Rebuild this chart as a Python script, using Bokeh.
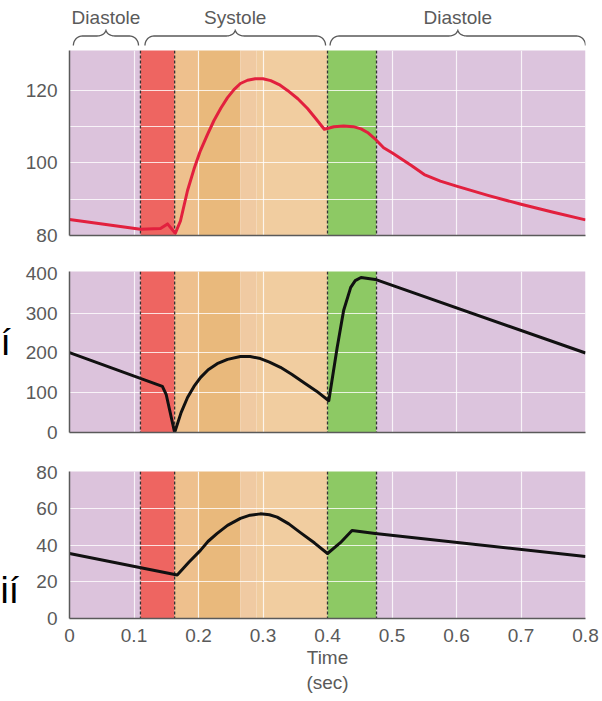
import numpy as np
from bokeh.plotting import figure
from bokeh.layouts import column, row
from bokeh.models import Range1d, FixedTicker, Span
from bokeh.embed import file_html
from bokeh.resources import INLINE
from bokeh.core.properties import value

# ---------------- data ----------------
band_start = [0.000, 0.110, 0.163, 0.200, 0.265, 0.290, 0.400, 0.476]
band_end   = [0.110, 0.163, 0.200, 0.265, 0.290, 0.400, 0.476, 0.800]
band_color = ["#DCC3DC", "#EE6561", "#EEC08D", "#E9B97C", "#F0CAA2", "#F1CDA0", "#8DC964", "#DCC4DD"]
divider_x = [0.110, 0.163, 0.400, 0.476]

phase_labels = ["Diastole", "Systole", "Diastole"]
phase_start = [0.006, 0.117, 0.404]
phase_end = [0.107, 0.397, 0.800]

x_ticks = [0, 0.1, 0.2, 0.3, 0.4, 0.5, 0.6, 0.7, 0.8]
x_tick_labels = ["0", "0.1", "0.2", "0.3", "0.4", "0.5", "0.6", "0.7", "0.8"]
x_grid = [0.1, 0.2, 0.3, 0.5, 0.6, 0.7]

# top panel (red curve)
t_top = [0.0, 0.110, 0.141, 0.152, 0.164, 0.172, 0.183, 0.193, 0.203, 0.214, 0.224,
         0.235, 0.245, 0.255, 0.265, 0.276, 0.288, 0.300, 0.312, 0.325, 0.338,
         0.354, 0.369, 0.382, 0.395, 0.410, 0.425, 0.440, 0.452, 0.462, 0.475,
         0.487, 0.500, 0.513, 0.530, 0.550, 0.575, 0.600, 0.650, 0.700, 0.750, 0.800]
v_top = [84.4, 81.7, 81.9, 83.2, 80.6, 84.0, 92.4, 98.3, 103.4, 107.9, 111.7,
         115.2, 118.0, 120.2, 121.9, 122.8, 123.2, 123.2, 122.7, 121.6, 120.0,
         117.7, 115.0, 112.2, 109.3, 110.0, 110.2, 110.0, 109.4, 108.4, 106.4,
         104.2, 102.8, 101.3, 99.3, 96.8, 95.0, 93.6, 91.0, 88.6, 86.4, 84.3]
top_yticks = [80, 100, 120]
top_ygrid = [90, 100, 110, 120]

# middle panel
t_mid = [0.0, 0.144, 0.150, 0.163, 0.173, 0.183, 0.193, 0.203, 0.215, 0.229, 0.245,
         0.265, 0.280, 0.296, 0.310, 0.327, 0.345, 0.363, 0.383, 0.402, 0.415,
         0.425, 0.436, 0.443, 0.452, 0.474, 0.800]
v_mid = [201, 116, 95, 0, 50, 88, 116, 138, 158, 173, 184,
         191, 191, 186, 177, 164, 146, 126, 104, 80, 214,
         307, 365, 382, 390, 385, 200]
mid_yticks = [0, 100, 200, 300, 400]
mid_ygrid = [100, 200, 300]

# bottom panel
t_bot = [0.0, 0.167, 0.185, 0.203, 0.215, 0.229, 0.245, 0.265, 0.280, 0.296, 0.310,
         0.322, 0.340, 0.358, 0.380, 0.400, 0.420, 0.438, 0.474, 0.800]
v_bot = [35.6, 23.8, 30.8, 37.3, 42.3, 46.6, 51.0, 54.8, 56.6, 57.3, 56.8,
         55.5, 51.8, 47.0, 41.3, 35.6, 41.5, 48.2, 46.6, 34.0]
bot_yticks = [0, 20, 40, 60, 80]
bot_ygrid = [20, 40, 60]

# cut-off side letters
side_text = ["í", "ií"]

FONT = "Liberation Sans"
TXT = "#5a5a5a"
FS = "19px"
SIDE_W = 20
W = 602 - SIDE_W
LB, RB = 49, 17
xr = Range1d(0, 0.8)


def panel(height, top, bottom, y0, y1, yticks, ygrid, show_x):
    p = figure(width=W, height=height, x_range=xr, y_range=Range1d(y0, y1),
               toolbar_location=None, output_backend="svg",
               min_border_left=LB, min_border_right=RB,
               min_border_top=top, min_border_bottom=bottom)
    p.outline_line_color = None
    p.background_fill_color = "white"
    p.quad(left=band_start, right=band_end, bottom=y0 - 50, top=y1 + 50,
           fill_color=band_color, line_color=None, level="image")
    p.xgrid.ticker = FixedTicker(ticks=x_grid)
    p.ygrid.ticker = FixedTicker(ticks=ygrid)
    for g in (p.xgrid, p.ygrid):
        g.grid_line_color = "white"
        g.grid_line_alpha = 0.8
        g.grid_line_width = 1.2
    for d in divider_x:
        p.add_layout(Span(location=d, dimension="height", line_color="#333333",
                          line_dash="3 2", line_width=1.3, level="underlay"))
    p.yaxis.ticker = FixedTicker(ticks=yticks)
    if show_x:
        p.xaxis.ticker = FixedTicker(ticks=x_ticks)
        p.xaxis.major_label_overrides = {t: l for t, l in zip(x_ticks, x_tick_labels)}
    else:
        p.xaxis.ticker = FixedTicker(ticks=[])
    for ax in (p.xaxis, p.yaxis):
        ax.axis_line_color = TXT
        ax.axis_line_width = 1.5
        ax.major_tick_line_color = None
        ax.minor_tick_line_color = None
        ax.major_label_text_color = TXT
        ax.major_label_text_font = FONT
        ax.major_label_text_font_size = FS
        ax.major_label_standoff = 6
    p.xaxis.major_label_standoff = 4
    return p


# header with braces (pixel-like coordinates, 0 at top)
hdr = figure(width=W, height=50, x_range=xr, y_range=Range1d(50, 0),
             toolbar_location=None, output_backend="svg",
             min_border_left=LB, min_border_right=RB, min_border_top=0, min_border_bottom=0)
hdr.outline_line_color = None
hdr.axis.visible = False
hdr.grid.visible = False
PX = 645.0
y_end, y_body, y_tip = 45.0, 35.5, 29.0
for s, e in zip(phase_start, phase_end):
    r = 9.0 / PX
    m = (s + e) / 2
    th = np.linspace(0, np.pi / 2, 12)
    xs1 = s + r * (1 - np.cos(th))
    ys1 = y_end - (y_end - y_body) * np.sin(th)
    xs2 = m - r + r * np.sin(th)
    ys2 = y_body - (y_body - y_tip) * (1 - np.cos(th))
    xl = np.concatenate([xs1, xs2])
    yl = np.concatenate([ys1, ys2])
    xr_ = (2 * m - xl)[::-1]
    yr_ = yl[::-1]
    hdr.line(np.concatenate([xl, xr_]), np.concatenate([yl, yr_]),
             line_color=TXT, line_width=1.3)
hdr.text(x=[(s + e) / 2 for s, e in zip(phase_start, phase_end)], y=[17] * 3,
         text=phase_labels, text_font=value(FONT), text_font_size=FS,
         text_color=TXT, text_align="center", text_baseline="middle")

p1 = panel(205, 0, 20, 80, 131, top_yticks, top_ygrid, False)
p1.line(t_top, v_top, line_color="#E2203E", line_width=3, line_join="round")

p2 = panel(195, 16, 18, 0, 405, mid_yticks, mid_ygrid, False)
p2.line(t_mid, v_mid, line_color="#111111", line_width=3, line_join="round")

p3 = panel(251, 21, 83, 0, 80.5, bot_yticks, bot_ygrid, True)
p3.line(t_bot, v_bot, line_color="#111111", line_width=3, line_join="round")
p3.xaxis.axis_label = "Time\n(sec)"
p3.xaxis.axis_label_text_font = FONT
p3.xaxis.axis_label_text_font_size = FS
p3.xaxis.axis_label_text_font_style = "normal"
p3.xaxis.axis_label_text_color = TXT
p3.xaxis.axis_label_standoff = 2

# narrow side strip with the cut-off letters
TOTAL_H = 50 + 205 + 195 + 251
side = figure(width=SIDE_W, height=TOTAL_H, x_range=Range1d(0, SIDE_W),
              y_range=Range1d(TOTAL_H, 0), toolbar_location=None, output_backend="svg",
              min_border_left=0, min_border_right=0, min_border_top=0, min_border_bottom=0)
side.outline_line_color = None
side.axis.visible = False
side.grid.visible = False
side.text(x=[0, 0], y=[342, 590], text=side_text, text_font=value(FONT),
          text_font_size="37px", text_color="black", text_align="left",
          text_baseline="alphabetic")

layout = row(side, column(hdr, p1, p2, p3, spacing=0), spacing=0)
open("out.html", "w").write(file_html(layout, INLINE))
